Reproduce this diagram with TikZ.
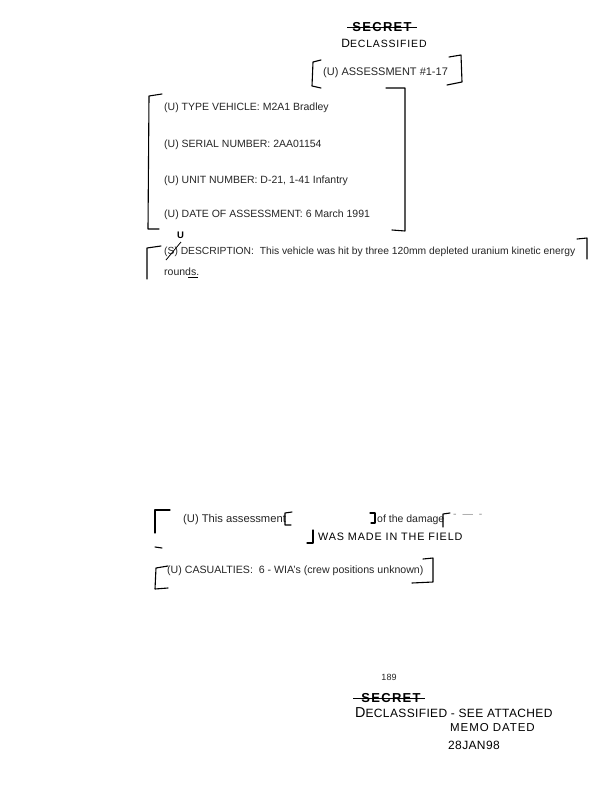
\documentclass[tikz,border=0pt]{standalone}
\usepackage{fontspec}
\setmainfont{Liberation Sans}
\newfontfamily\handfont[LetterSpace=8]{Liberation Sans}
\newfontfamily\stampfont[LetterSpace=10]{Liberation Sans}
\usetikzlibrary{calc}

\tikzset{
  typed/.style={anchor=west, inner sep=0pt, text=black!85, font=\fontsize{10.5}{12}\selectfont},
  hand/.style={anchor=west, inner sep=0pt, font=\handfont\fontsize{10.5}{12}\selectfont},
  stamp/.style={anchor=center, inner sep=0pt, font=\stampfont\bfseries\fontsize{13}{14}\selectfont},
  brk/.style={black, line width=1.1pt, line join=round, line cap=round}
}

\begin{document}
\begin{tikzpicture}[x=1pt,y=-1pt]

\useasboundingbox (0,0) rectangle (612,792);
\fill[white] (0,0) rectangle (612,792);

% header stamp
\node[stamp] (secTop) at (382,27) {SECRET};
\draw[thick] ($(secTop.west)+(-5,0)$) -- ($(secTop.east)+(5,0)$);
\node[hand, anchor=center] (declTop) at (384,43) {{\large D}ECLASSIFIED};

% assessment number
\node[typed, font=\fontsize{11}{13}\selectfont] (assess) at (323,73) {(U) ASSESSMENT \#1-17};
\draw[brk] (321,60) -- (313,62) -- (312,86) -- (321,88);
\draw[brk] (449,57) -- (461,55) -- (462,82) -- (447,85);

% vehicle data
\node[typed] (type) at (164,108) {(U) TYPE VEHICLE: M2A1 Bradley};
\node[typed] (serial) at (164,145) {(U) SERIAL NUMBER: 2AA01154};
\node[typed] (unit) at (164,181) {(U) UNIT NUMBER: D-21, 1-41 Infantry};
\node[typed] (date) at (164,215) {(U) DATE OF ASSESSMENT: 6 March 1991};
\draw[brk] (386,88) -- (405,88) -- (405,231) -- (392,230);
\draw[brk] (162,94) -- (149,96) -- (148,229) -- (159,229);

% description
\node[hand, font=\bfseries\fontsize{9.5}{10}\selectfont] (uMark) at (177,235) {U};
\node[typed, font=\fontsize{10.3}{12}\selectfont] (desc) at (164,252) {(S) DESCRIPTION:\ \ This vehicle was hit by three 120mm depleted uranium kinetic energy};
\node[typed] (rounds) at (164,272) {rounds.};
\draw[thick] (166,260) -- (181,242);
\draw[thick] (188,277) -- (198,277);
\draw[brk] (161,246) -- (147,248) -- (147,279);
\draw[brk] (577,239) -- (587,238) -- (587,259);

% damage assessment
\node[typed, font=\fontsize{11.2}{13}\selectfont] (thisAssess) at (183,520) {(U) This assessment};
\node[typed] (ofDamage) at (377,520) {of the damage};
\node[typed, text=black!45] (dashes) at (453,516) {-\ \ ---\ \ -};
\node[hand, font=\handfont\fontsize{10.8}{12}\selectfont] (field) at (318,537) {WAS MADE IN THE FIELD};
\draw[brk] (170,510) -- (155,510) -- (155,533);
\draw[brk] (292,512) -- (285,513) -- (285,525) -- (291,525);
\draw[brk] (370,513) -- (375,513) -- (375,523) -- (371,523);
\draw[brk] (450,513) -- (443,514) -- (443,527);
\draw[brk] (313,530) -- (313,543) -- (307,543);
\draw[brk] (155,547) -- (162,548);

% casualties
\node[typed, font=\fontsize{10.6}{12}\selectfont] (casualties) at (167,571) {(U) CASUALTIES:\ \ 6 - WIA's (crew positions unknown)};
\draw[brk] (168,566) -- (156,568) -- (155,589) -- (168,588);
\draw[brk] (423,559) -- (433,558) -- (433,582) -- (412,583);

% page number and footer stamp
\node[typed, anchor=center, font=\fontsize{9}{10}\selectfont] (pageNo) at (389,677) {189};
\node[stamp] (secBot) at (391,698) {SECRET};
\draw[thick] ($(secBot.west)+(-8,0)$) -- ($(secBot.east)+(4,0)$);
\node[hand, font=\handfont\addfontfeature{LetterSpace=3}\fontsize{12}{13}\selectfont] (declBot) at (355,713) {{\Large D}ECLASSIFIED - SEE ATTACHED};
\node[hand, font=\handfont\fontsize{11.5}{13}\selectfont] (memo) at (450,728) {MEMO DATED};
\node[hand, font=\handfont\addfontfeature{LetterSpace=3}\fontsize{12}{13}\selectfont] (dated) at (448,745) {28JAN98};

\end{tikzpicture}
\end{document}
